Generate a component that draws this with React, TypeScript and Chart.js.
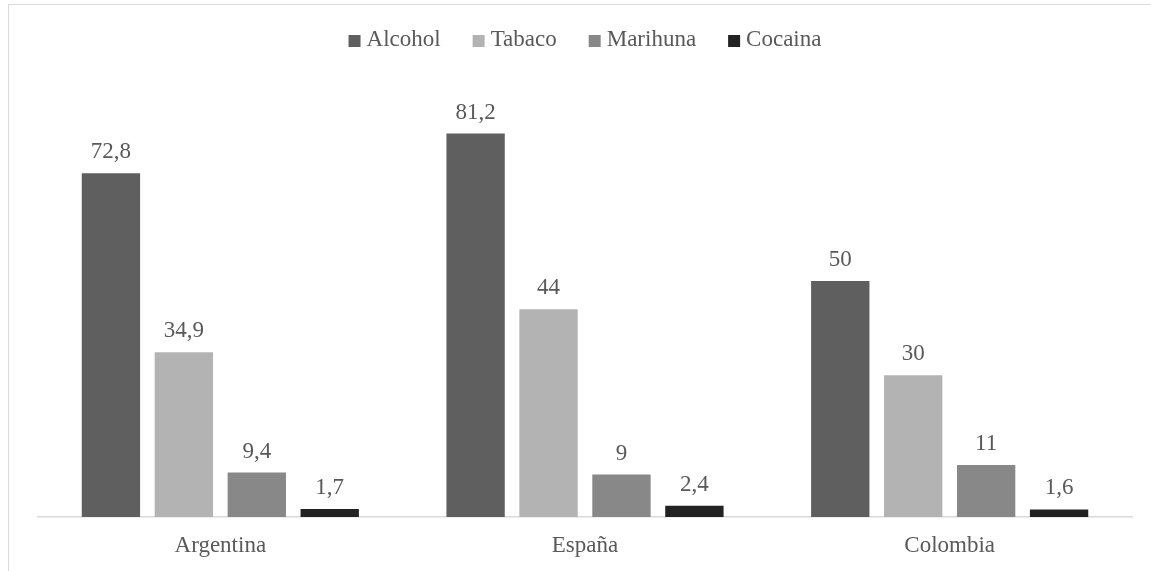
import React, { useEffect, useRef } from "react";
import { Chart, registerables } from "chart.js";

Chart.register(...registerables);

// Países comparados
const categories = ["Argentina", "España", "Colombia"];

// Porcentaje de consumo por sustancia
const alcohol = [72.8, 81.2, 50];
const tabaco = [34.9, 44, 30];
const marihuna = [9.4, 9, 11];
const cocaina = [1.7, 2.4, 1.6];

const seriesNames = ["Alcohol", "Tabaco", "Marihuna", "Cocaina"];
const seriesColors = ["#5f5f5f", "#b3b3b3", "#888888", "#222222"];

const FONT_FAMILY = '"Liberation Serif"';
const TEXT_COLOR = "#595959";
const FONT_SIZE = 23;

const fmt = (v: number) => String(v).replace(".", ",");

// Value labels above each bar
const valueLabels = {
  id: "valueLabels",
  afterDatasetsDraw(chart: any) {
    const ctx = chart.ctx;
    ctx.save();
    ctx.font = `${FONT_SIZE}px ${FONT_FAMILY}`;
    ctx.fillStyle = TEXT_COLOR;
    ctx.textAlign = "center";
    ctx.textBaseline = "alphabetic";
    chart.data.datasets.forEach((ds: any, di: number) => {
      const meta = chart.getDatasetMeta(di);
      meta.data.forEach((bar: any, i: number) => {
        ctx.fillText(fmt(ds.data[i]), bar.x, bar.y - 15);
      });
    });
    ctx.restore();
  },
};

// Horizontal legend with small square markers, centred over the plot
const squareLegend = {
  id: "squareLegend",
  afterDraw(chart: any) {
    const ctx = chart.ctx;
    const box = 12;
    const gapText = 6;
    const gapItem = 32;
    const boxTop = 30;
    ctx.save();
    ctx.font = `${FONT_SIZE}px ${FONT_FAMILY}`;
    const items = chart.data.datasets.map((ds: any) => ({
      label: ds.label,
      color: ds.backgroundColor,
      w: ctx.measureText(ds.label).width,
    }));
    const total =
      items.reduce((s: number, it: any) => s + box + gapText + it.w, 0) +
      gapItem * (items.length - 1);
    const area = chart.chartArea;
    let x = (area.left + area.right) / 2 - total / 2;
    ctx.textBaseline = "middle";
    ctx.textAlign = "left";
    items.forEach((it: any) => {
      ctx.fillStyle = it.color;
      ctx.fillRect(x, boxTop, box, box);
      ctx.fillStyle = TEXT_COLOR;
      ctx.fillText(it.label, x + box + gapText, boxTop + box / 2 - 1);
      x += box + gapText + it.w + gapItem;
    });
    ctx.restore();
  },
};

export default function App() {
  const canvasRef = useRef<HTMLCanvasElement | null>(null);

  useEffect(() => {
    if (!canvasRef.current) return;
    const seriesData = [alcohol, tabaco, marihuna, cocaina];
    const chart = new Chart(canvasRef.current, {
      type: "bar",
      data: {
        labels: categories,
        datasets: seriesNames.map((name, i) => ({
          label: name,
          data: seriesData[i],
          backgroundColor: seriesColors[i],
          borderWidth: 0,
          categoryPercentage: 0.8,
          barPercentage: 0.8,
        })),
      },
      options: {
        animation: false,
        responsive: false,
        maintainAspectRatio: false,
        layout: { padding: { top: 87, left: 29, right: 19, bottom: 0 } },
        plugins: {
          legend: { display: false },
          tooltip: { enabled: false },
          title: { display: false },
        },
        scales: {
          x: {
            grid: { display: false, drawTicks: false, tickLength: 0 },
            border: { display: true, color: "#d9d9d9", width: 1.5 },
            ticks: {
              padding: 15,
              color: TEXT_COLOR,
              font: { family: FONT_FAMILY, size: FONT_SIZE },
            },
            afterFit: (scale: any) => {
              scale.height = 54;
            },
          },
          y: {
            display: false,
            min: 0,
            max: 90,
          },
        },
      },
      plugins: [valueLabels, squareLegend],
    });
    return () => chart.destroy();
  }, []);

  return (
    <div
      style={{
        position: "fixed",
        left: 8,
        top: 4,
        width: 1143,
        height: 567,
        overflow: "hidden",
        boxSizing: "border-box",
        borderTop: "1.5px solid #d9d9d9",
        borderLeft: "1.5px solid #d9d9d9",
        background: "#fff",
      }}
    >
      <canvas
        ref={canvasRef}
        width={1142}
        height={566}
        style={{ display: "block", width: 1142, height: 566 }}
      />
    </div>
  );
}
